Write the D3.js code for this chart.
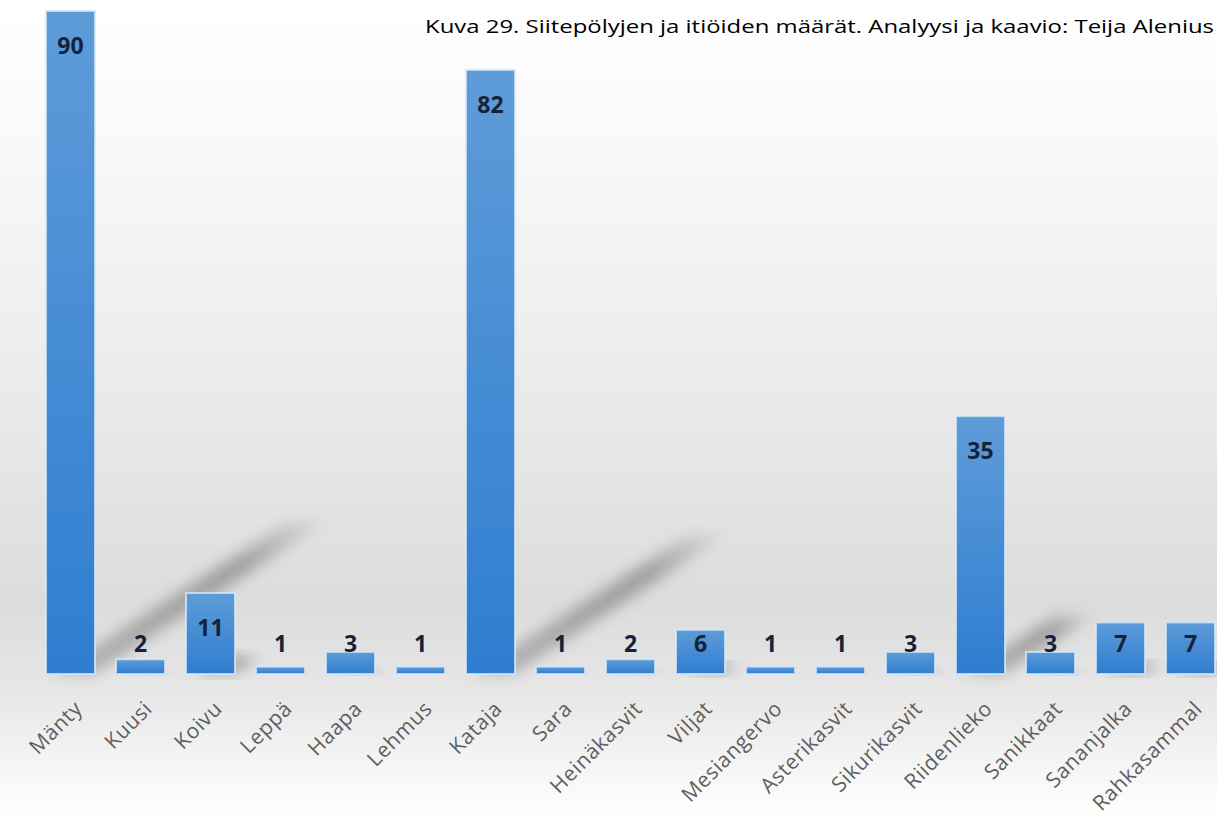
<!DOCTYPE html>
<html lang="fi">
<head>
<meta charset="UTF-8">
<title>Kuva 29</title>
<script src="https://d3js.org/d3.v7.min.js"></script>
<style>
    body { margin: 0; overflow: hidden; background: #fff; }
    svg { display: block; }
</style>
</head>
<body>
<div id="chart"></div>
<script>
    // taxa and counts
    const taxa = ["Mänty", "Kuusi", "Koivu", "Leppä", "Haapa", "Lehmus", "Kataja", "Sara",
        "Heinäkasvit", "Viljat", "Mesiangervo", "Asterikasvit", "Sikurikasvit", "Riidenlieko",
        "Sanikkaat", "Sananjalka", "Rahkasammal"];
    const counts = [90, 2, 11, 1, 3, 1, 82, 1, 2, 6, 1, 1, 3, 35, 3, 7, 7];
    const title = "Kuva 29. Siitepölyjen ja itiöiden määrät. Analyysi ja kaavio: Teija Alenius";

    const data = taxa.map((t, i) => ({ name: t, value: counts[i] }));

    const width = 1217, height = 818;
    const svg = d3.select("#chart").append("svg")
        .attr("width", width)
        .attr("height", height);

    const defs = svg.append("defs");

    // grey backdrop
    const bg = defs.append("linearGradient").attr("id", "bg")
        .attr("x1", 0).attr("y1", 0).attr("x2", 0).attr("y2", 1);
    [[0, "#ffffff"], [0.12, "#fbfbfb"], [0.45, "#ececec"], [0.74, "#dcdcdc"],
     [0.84, "#e6e6e6"], [1, "#ffffff"]].forEach(s =>
        bg.append("stop").attr("offset", s[0]).attr("stop-color", s[1]));

    const barGrad = defs.append("linearGradient").attr("id", "barGrad")
        .attr("x1", 0).attr("y1", 0).attr("x2", 0).attr("y2", 1);
    barGrad.append("stop").attr("offset", 0).attr("stop-color", "#5e9cd9");
    barGrad.append("stop").attr("offset", 1).attr("stop-color", "#2f7dd0");

    const shGrad = defs.append("linearGradient").attr("id", "shGrad")
        .attr("x1", 0).attr("y1", 1).attr("x2", 1).attr("y2", 0);
    shGrad.append("stop").attr("offset", 0).attr("stop-color", "#000").attr("stop-opacity", 0.2);
    shGrad.append("stop").attr("offset", 0.7).attr("stop-color", "#000").attr("stop-opacity", 0.28);
    shGrad.append("stop").attr("offset", 1).attr("stop-color", "#000").attr("stop-opacity", 0.03);

    defs.append("filter").attr("id", "blur")
        .attr("x", "-30%").attr("y", "-30%").attr("width", "160%").attr("height", "160%")
        .append("feGaussianBlur").attr("stdDeviation", 7);

    svg.append("rect")
        .attr("width", width)
        .attr("height", height)
        .attr("fill", "url(#bg)");

    // scales
    const x = d3.scaleBand()
        .domain(taxa)
        .range([35.5, 1225.5])
        .paddingInner(0.3)
        .paddingOuter(0.15);

    const y = d3.scaleLinear()
        .domain([0, 90])
        .range([674, 11]);

    // perspective shadows falling up to the right
    svg.append("g")
        .selectAll("path")
        .data(data)
        .join("path")
        .attr("d", d => {
            const h = y(0) - y(d.value);
            const dx = 0.35 * h, dy = -0.23 * h;
            const x0 = x(d.name) + 6, x1 = x(d.name) + x.bandwidth();
            const b = y(0);
            return `M${x0},${b}L${x1},${b}L${x1 + dx},${b + dy}L${x0 + dx + 4},${b + dy}Z`;
        })
        .attr("fill", "url(#shGrad)")
        .attr("filter", "url(#blur)");

    // bars
    svg.append("g")
        .selectAll("rect")
        .data(data)
        .join("rect")
        .attr("x", d => x(d.name))
        .attr("y", d => y(d.value))
        .attr("width", x.bandwidth())
        .attr("height", d => y(0) - y(d.value))
        .attr("fill", "url(#barGrad)")
        .attr("stroke", "#d6e8f8")
        .attr("stroke-opacity", 0.8)
        .attr("stroke-width", 2);

    // value labels
    svg.append("g")
        .selectAll("text")
        .data(data)
        .join("text")
        .attr("x", d => x(d.name) + x.bandwidth() / 2)
        .attr("y", d => Math.min(y(d.value) + 35, 644))
        .attr("dy", "0.36em")
        .attr("text-anchor", "middle")
        .style("font-family", "'Open Sans', sans-serif")
        .style("font-weight", "bold")
        .style("font-size", "23px")
        .attr("fill", "#15233a")
        .text(d => d.value);

    // category axis labels
    const xAxis = svg.append("g")
        .attr("transform", "translate(0," + y(0) + ")")
        .call(d3.axisBottom(x).tickSize(0).tickPadding(0));
    xAxis.select(".domain").remove();
    xAxis.selectAll("text")
        .attr("x", 0)
        .attr("y", 0)
        .attr("dy", 0)
        .attr("text-anchor", "end")
        .attr("transform", "translate(13,36) rotate(-45)")
        .style("font-family", "'Open Sans', sans-serif")
        .style("font-size", "21px")
        .style("letter-spacing", "0.6px")
        .attr("fill", "#5f5f5f");

    // title
    svg.append("text")
        .attr("x", 425)
        .attr("y", 33)
        .attr("textLength", 789)
        .attr("lengthAdjust", "spacingAndGlyphs")
        .style("font-family", "'Open Sans', sans-serif")
        .style("font-size", "18px")
        .attr("fill", "#000")
        .text(title);
</script>
</body>
</html>
